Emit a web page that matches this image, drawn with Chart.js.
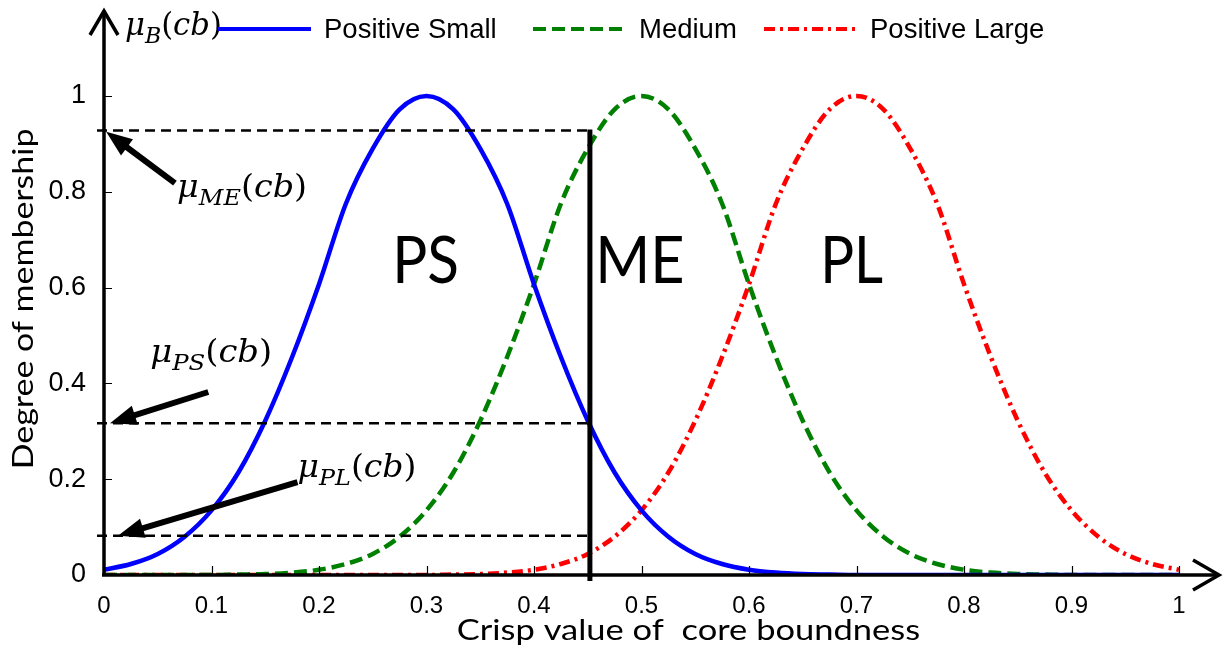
<!DOCTYPE html>
<html>
<head>
<meta charset="utf-8">
<script src="https://cdn.jsdelivr.net/npm/chart.js@4.4.1/dist/chart.umd.min.js"></script>
<style>
  html, body { margin: 0; padding: 0; background: #ffffff; }
  #wrap { width: 1224px; height: 655px; position: relative; }
</style>
</head>
<body>
<div id="wrap"><canvas id="chart" width="1224" height="655"></canvas></div>
<script>
// Crisp value of core boundness (x) and the degree of membership of each fuzzy set
const crispX = [0, 0.025, 0.05, 0.075, 0.1, 0.125, 0.15, 0.175, 0.2, 0.225,
                0.25, 0.275, 0.3, 0.325, 0.35, 0.375, 0.4, 0.425, 0.45, 0.475,
                0.5, 0.525, 0.55, 0.575, 0.6, 0.625, 0.65, 0.675, 0.7, 0.725,
                0.75, 0.775, 0.8, 0.825, 0.85, 0.875, 0.9, 0.925, 0.95, 0.975, 1];

const positiveSmall = [0.011, 0.023, 0.044, 0.080, 0.135, 0.214, 0.322, 0.455, 0.607, 0.775,
                       0.890, 0.972, 1.000, 0.972, 0.890, 0.775, 0.607, 0.455, 0.322, 0.214,
                       0.135, 0.080, 0.044, 0.023, 0.011, 0.005, 0.002, 0.001, 0, 0,
                       0, 0, 0, 0, 0, 0, 0, 0, 0, 0, 0];

const medium = [0, 0, 0, 0, 0, 0.001, 0.002, 0.005, 0.011, 0.023,
                0.044, 0.080, 0.135, 0.214, 0.322, 0.455, 0.607, 0.775, 0.890, 0.972,
                1.000, 0.972, 0.890, 0.775, 0.607, 0.455, 0.322, 0.214, 0.135, 0.080,
                0.044, 0.023, 0.011, 0.005, 0.002, 0.001, 0, 0, 0, 0, 0];

const positiveLarge = [0, 0, 0, 0, 0, 0, 0, 0, 0, 0,
                       0, 0, 0, 0.001, 0.002, 0.005, 0.011, 0.023, 0.044, 0.080,
                       0.135, 0.214, 0.322, 0.455, 0.607, 0.775, 0.890, 0.972, 1.000, 0.972,
                       0.890, 0.775, 0.607, 0.455, 0.322, 0.214, 0.135, 0.080, 0.044, 0.023, 0.011];

const xTicks = [0, 0.1, 0.2, 0.3, 0.4, 0.5, 0.6, 0.7, 0.8, 0.9, 1];
const yTicks = [0, 0.2, 0.4, 0.6, 0.8, 1];

const seriesNames = ['Positive Small', 'Medium', 'Positive Large'];
const setNames = ['PS', 'ME', 'PL'];

// Crisp input and the membership degrees it fires
const crispInput = 0.452;
const muME = 0.928;
const muPS = 0.317;
const muPL = 0.082;

// ---------- layout / style (pixels, fonts, data-space anchors for annotations) ----------
const AXIS_FONT = 'Liberation Sans, Arial, sans-serif';
const TITLE_FONT = 'Lato, "Open Sans", sans-serif';
const MATH_FONT = '"DejaVu Serif", serif';

const setLabelPlacement = [   // left ink edge x, baseline y (data units), ink width px
  { x: 0.273, y: 0.61, w: 59 },
  { x: 0.462, y: 0.61, w: 82 },
  { x: 0.671, y: 0.61, w: 57 }
];

const mathLabels = [
  { main: 'μ', sub: 'B',  x: 0.0195, y: 1.127, w: 97 },
  { main: 'μ', sub: 'ME', x: 0.068,  y: 0.789, w: 130 },
  { main: 'μ', sub: 'PS', x: 0.043,  y: 0.445, w: 122 },
  { main: 'μ', sub: 'PL', x: 0.180,  y: 0.205, w: 119 }
];

const pointerArrows = [
  { from: [0.066, 0.818], to: [0.002, muME - 0.003] },
  { from: [0.097, 0.382], to: [0.0056, muPS] },
  { from: [0.180, 0.194], to: [0.013, muPL] }
];

const legendStarts = [218, 533, 764];

function inkText(ctx, text, left, baseline, font, inkWidth) {
  ctx.font = font;
  const m = ctx.measureText(text);
  const w = m.actualBoundingBoxLeft + m.actualBoundingBoxRight;
  const s = inkWidth / w;
  ctx.save();
  ctx.translate(left + m.actualBoundingBoxLeft * s, baseline);
  ctx.scale(s, 1);
  ctx.textAlign = 'left';
  ctx.textBaseline = 'alphabetic';
  ctx.fillText(text, 0, 0);
  ctx.restore();
}

function mathText(ctx, lab, left, baseline) {
  const S = 32, s2 = 23, drop = 8;
  const parts = [
    { t: lab.main, f: 'italic ' + S + 'px ' + MATH_FONT, dy: 0 },
    { t: lab.sub,  f: 'italic ' + s2 + 'px ' + MATH_FONT, dy: drop },
    { t: '(',      f: S + 'px ' + MATH_FONT, dy: 0 },
    { t: 'cb',     f: 'italic ' + S + 'px ' + MATH_FONT, dy: 0 },
    { t: ')',      f: S + 'px ' + MATH_FONT, dy: 0 }
  ];
  let total = 0;
  parts.forEach(p => { ctx.font = p.f; p.adv = ctx.measureText(p.t).width; total += p.adv; });
  const sc = lab.w / total;
  ctx.save();
  ctx.translate(left, baseline);
  ctx.scale(sc, 1);
  ctx.fillStyle = '#000';
  ctx.textAlign = 'left';
  ctx.textBaseline = 'alphabetic';
  let x = 0;
  parts.forEach(p => { ctx.font = p.f; ctx.fillText(p.t, x, p.dy); x += p.adv; });
  ctx.restore();
}

function arrow(ctx, x0, y0, x1, y1) {
  const ang = Math.atan2(y1 - y0, x1 - x0);
  const L = 26, H = 10;
  const bx = x1 - L * Math.cos(ang), by = y1 - L * Math.sin(ang);
  ctx.save();
  ctx.strokeStyle = '#000';
  ctx.fillStyle = '#000';
  ctx.lineWidth = 6;
  ctx.setLineDash([]);
  ctx.beginPath();
  ctx.moveTo(x0, y0);
  ctx.lineTo(bx + 4 * Math.cos(ang), by + 4 * Math.sin(ang));
  ctx.stroke();
  ctx.beginPath();
  ctx.moveTo(x1, y1);
  ctx.lineTo(bx + H * Math.sin(ang), by - H * Math.cos(ang));
  ctx.lineTo(bx - H * Math.sin(ang), by + H * Math.cos(ang));
  ctx.closePath();
  ctx.fill();
  ctx.restore();
}

const decorations = {
  id: 'decorations',
  afterDatasetsDraw(chart) {
    const ctx = chart.ctx;
    const xs = chart.scales.x, ys = chart.scales.y;
    const x0 = xs.getPixelForValue(0), x1 = xs.getPixelForValue(1);
    const y0 = ys.getPixelForValue(0);
    const px = v => xs.getPixelForValue(v);
    const py = v => ys.getPixelForValue(v);

    ctx.save();
    // tick marks pointing into the plot
    ctx.strokeStyle = '#000';
    ctx.lineWidth = 1.2;
    ctx.beginPath();
    xTicks.forEach(v => { const p = Math.round(px(v)) + 0.5; ctx.moveTo(p, y0); ctx.lineTo(p, y0 - 9); });
    yTicks.forEach(v => { const p = Math.round(py(v)) + 0.5; ctx.moveTo(x0, p); ctx.lineTo(x0 + 8, p); });
    ctx.stroke();

    // dashed guides from the membership degrees to the crisp input
    const cx = px(crispInput);
    ctx.setLineDash([10, 6]);
    ctx.lineWidth = 2.5;
    [muME, muPS, muPL].forEach(m => {
      ctx.beginPath();
      ctx.moveTo(x0 - 7, py(m));
      ctx.lineTo(cx, py(m));
      ctx.stroke();
    });
    ctx.setLineDash([]);

    // crisp input line
    ctx.lineWidth = 5;
    ctx.beginPath();
    ctx.moveTo(cx, y0 + 6);
    ctx.lineTo(cx, py(muME) - 1);
    ctx.stroke();

    // axes with open arrow heads
    ctx.lineWidth = 3.5;
    ctx.lineJoin = 'miter';
    ctx.beginPath();
    ctx.moveTo(x0, y0 + 1);
    ctx.lineTo(x0, 11);
    ctx.moveTo(x0 - 2, y0);
    ctx.lineTo(x1 + 40, y0);
    ctx.stroke();
    ctx.beginPath();
    ctx.moveTo(x0 - 14, 35); ctx.lineTo(x0, 11); ctx.lineTo(x0 + 14, 35);
    ctx.moveTo(x1 + 14, y0 - 15); ctx.lineTo(x1 + 40, y0); ctx.lineTo(x1 + 14, y0 + 15);
    ctx.stroke();

    // pointers to the membership degrees
    pointerArrows.forEach(a => arrow(ctx, px(a.from[0]), py(a.from[1]), px(a.to[0]), py(a.to[1])));

    // membership function names
    ctx.fillStyle = '#000';
    setNames.forEach((n, i) => {
      const p = setLabelPlacement[i];
      inkText(ctx, n, px(p.x), py(p.y), '66px ' + TITLE_FONT, p.w);
    });

    // membership symbols
    mathLabels.forEach(l => mathText(ctx, l, px(l.x), py(l.y)));

    // axis titles
    inkText(ctx, 'Crisp value of  core boundness', 458, 640, '28px ' + TITLE_FONT, 462);
    ctx.save();
    ctx.translate(33, 467);
    ctx.rotate(-Math.PI / 2);
    inkText(ctx, 'Degree of membership', 0, 0, '29px ' + TITLE_FONT, 337);
    ctx.restore();

    // legend
    chart.data.datasets.forEach((ds, i) => {
      const lx = legendStarts[i], ly = 29;
      ctx.save();
      ctx.strokeStyle = ds.borderColor;
      ctx.lineWidth = 4;
      ctx.setLineDash(ds.borderDash || []);
      ctx.beginPath();
      ctx.moveTo(lx, ly);
      ctx.lineTo(lx + 93, ly);
      ctx.stroke();
      ctx.restore();
      ctx.font = '27.5px ' + AXIS_FONT;
      ctx.fillStyle = '#000';
      ctx.textAlign = 'left';
      ctx.textBaseline = 'middle';
      ctx.fillText(ds.label, lx + 106, ly + 1);
    });
    ctx.restore();
  }
};

const toPoints = ys => crispX.map((x, i) => ({ x: x, y: ys[i] }));
const tickText = v => String(Number(v.toFixed(1)));

new Chart(document.getElementById('chart'), {
  type: 'line',
  data: {
    datasets: [
      { label: seriesNames[0], data: toPoints(positiveSmall), borderColor: '#0000ff', borderWidth: 4.5, borderDash: [] },
      { label: seriesNames[1], data: toPoints(medium), borderColor: '#008000', borderWidth: 4.5, borderDash: [13, 6] },
      { label: seriesNames[2], data: toPoints(positiveLarge), borderColor: '#ff0000', borderWidth: 4.5, borderDash: [11, 5, 3, 5] }
    ]
  },
  options: {
    responsive: false,
    animation: false,
    devicePixelRatio: 1,
    elements: {
      point: { radius: 0 },
      line: { cubicInterpolationMode: 'monotone', fill: false, borderCapStyle: 'butt' }
    },
    layout: { padding: { top: 48, right: 45, left: 0, bottom: 0 } },
    plugins: { legend: { display: false }, tooltip: { enabled: false }, title: { display: false } },
    scales: {
      x: {
        type: 'linear', min: 0, max: 1,
        afterBuildTicks: s => { s.ticks = xTicks.map(v => ({ value: v })); },
        afterFit: s => { s.height = 80; },
        grid: { display: false }, border: { display: false },
        ticks: { padding: 9, color: '#000', font: { family: AXIS_FONT, size: 24 }, maxRotation: 0, autoSkip: false, callback: tickText }
      },
      y: {
        type: 'linear', min: 0, max: 1.1,
        afterBuildTicks: s => { s.ticks = yTicks.map(v => ({ value: v })); },
        afterFit: s => { s.width = 104; },
        grid: { display: false }, border: { display: false },
        ticks: { padding: 10, color: '#000', font: { family: AXIS_FONT, size: 27 }, autoSkip: false, callback: tickText }
      }
    }
  },
  plugins: [decorations]
});
</script>
</body>
</html>
